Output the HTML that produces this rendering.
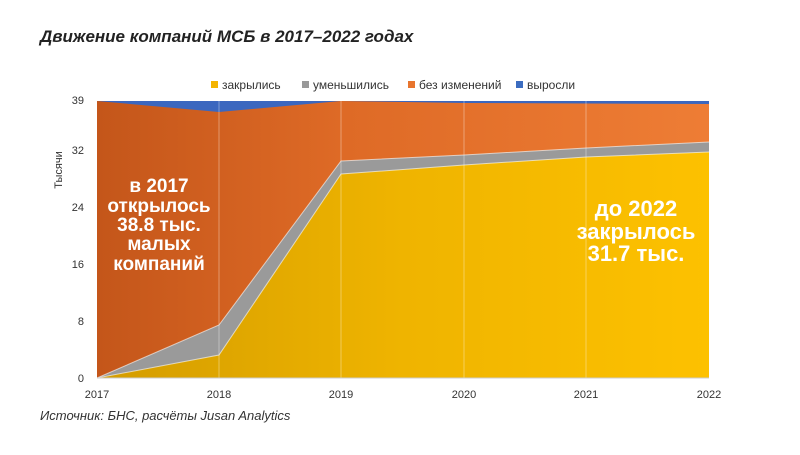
<!DOCTYPE html>
<html><head><meta charset="utf-8"><style>
body{margin:0;background:#fff;width:800px;height:450px;overflow:hidden;font-family:"Liberation Sans",sans-serif}
</style></head><body>
<svg width="800" height="450" xmlns="http://www.w3.org/2000/svg" font-family="Liberation Sans, sans-serif">
<defs>
<linearGradient id="og" x1="97" x2="709" y1="0" y2="0" gradientUnits="userSpaceOnUse">
<stop offset="0" stop-color="#c4561a"/><stop offset="0.4" stop-color="#de6a26"/><stop offset="1" stop-color="#ee7d35"/></linearGradient>
<linearGradient id="yg" x1="97" x2="709" y1="0" y2="0" gradientUnits="userSpaceOnUse">
<stop offset="0" stop-color="#d39c00"/><stop offset="0.5" stop-color="#efb400"/><stop offset="1" stop-color="#fdc100"/></linearGradient>
</defs>
<text x="40" y="42" font-size="17" font-weight="bold" font-style="italic" fill="#222">Движение компаний МСБ в 2017–2022 годах</text>
<g font-size="12" fill="#333">
<rect x="211" y="81" width="7" height="7" fill="#f4b400"/><text x="222" y="89">закрылись</text>
<rect x="302" y="81" width="7" height="7" fill="#999"/><text x="313" y="89">уменьшились</text>
<rect x="408" y="81" width="7" height="7" fill="#e8752e"/><text x="419" y="89">без изменений</text>
<rect x="516" y="81" width="7" height="7" fill="#3b6cc0"/><text x="527" y="89">выросли</text>
</g>
<polygon points="97,101 219,101 341,101 464,101 586,101 709,101 709,378 97,378" fill="#3b67bf"/>
<polygon points="97,101 219,112 341,101 464,103 586,103.5 709,104 709,378 97,378" fill="url(#og)"/>
<polygon points="97,378 219,325 341,161 464,155 586,148 709,142 709,378" fill="#9a9a9a"/>
<polygon points="97,378 219,355 341,174 464,165 586,157 709,152 709,378" fill="url(#yg)"/>
<polyline points="97,378 219,325 341,161 464,155 586,148 709,142" fill="none" stroke="#fff" stroke-opacity="0.6" stroke-width="1"/>
<polyline points="97,378 219,355 341,174 464,165 586,157 709,152" fill="none" stroke="#fff" stroke-opacity="0.6" stroke-width="1"/>
<g stroke="#fff" stroke-opacity="0.35"><line x1="219" y1="101" x2="219" y2="378"/><line x1="341" y1="101" x2="341" y2="378"/><line x1="464" y1="101" x2="464" y2="378"/><line x1="586" y1="101" x2="586" y2="378"/></g>
<line x1="97" y1="378" x2="709" y2="378" stroke="#ccc"/>
<g font-size="11" fill="#333" text-anchor="end">
<text x="84" y="104">39</text><text x="84" y="154">32</text><text x="84" y="211">24</text><text x="84" y="268">16</text><text x="84" y="325">8</text><text x="84" y="382">0</text>
</g>
<text transform="translate(62,170) rotate(-90)" font-size="11" fill="#333" text-anchor="middle">Тысячи</text>
<g font-size="11" fill="#333" text-anchor="middle">
<text x="97" y="398">2017</text><text x="219" y="398">2018</text><text x="341" y="398">2019</text><text x="464" y="398">2020</text><text x="586" y="398">2021</text><text x="709" y="398">2022</text>
</g>
<g font-size="19" font-weight="bold" fill="#fff" text-anchor="middle">
<text x="159" y="192">в 2017</text><text x="159" y="212">открылось</text><text x="159" y="231">38.8 тыс.</text><text x="159" y="250">малых</text><text x="159" y="270">компаний</text>
</g>
<g font-size="22" font-weight="bold" fill="#fff" text-anchor="middle">
<text x="636" y="216">до 2022</text><text x="636" y="239">закрылось</text><text x="636" y="261">31.7 тыс.</text>
</g>
<text x="40" y="420" font-size="13" font-style="italic" fill="#333">Источник: БНС, расчёты Jusan Analytics</text>
</svg>
</body></html>
